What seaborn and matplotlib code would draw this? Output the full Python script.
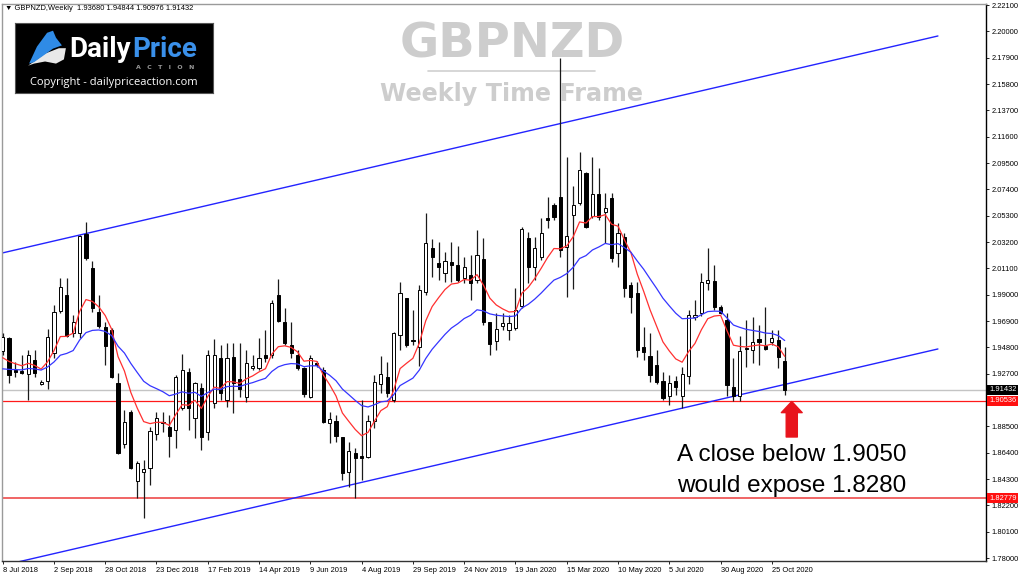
import numpy as np
import pandas as pd
import seaborn as sns
import matplotlib.pyplot as plt
from matplotlib.lines import Line2D
from matplotlib.patches import Polygon

# weekly GBPNZD candles, first week 8 Jul 2018
first_week = "2018-07-08"

opens = [
    1.9453, 1.9558, 1.9301, 1.9293, 1.9269, 1.9381, 1.9190, 1.9213, 1.9437, 1.9771,
    1.9899, 1.9596, 1.9596, 2.0385, 2.0114, 1.9763, 1.9644, 1.9620, 1.9197, 1.8711,
    1.8966, 1.8416, 1.8488, 1.8520, 1.8791, 1.8887, 1.8847, 1.8823, 1.8998, 1.9285,
    1.8919, 1.9158, 1.8807, 1.9038, 1.9397, 1.9062, 1.9405, 1.9229, 1.9086, 1.9317,
    1.9317, 1.9421, 1.9421, 1.9899, 1.9684, 1.9500, 1.9421, 1.9317, 1.9086, 1.9357,
    1.9301, 1.8879, 1.8895, 1.8767, 1.8488, 1.8640, 1.8616, 1.8608, 1.8895, 1.9190,
    1.9245, 1.9062, 1.9580, 1.9875, 1.9540, 1.9484, 1.9923, 2.0273, 2.0154, 2.0074,
    2.0162, 2.0138, 2.0034, 2.0058, 2.0018, 2.0186, 1.9684, 1.9532, 1.9652, 1.9620,
    1.9636, 1.9811, 2.0353, 2.0122, 2.0202, 2.0513, 2.0616, 2.0680, 2.0281, 2.0536,
    2.0632, 2.0871, 2.0528, 2.0704, 2.0560, 2.0672, 2.0234, 2.0361, 1.9978, 1.9915,
    1.9484, 1.9413, 1.9341, 1.9213, 1.9094, 1.9213, 1.9094, 1.9253, 1.9724, 1.9755,
    1.9994, 2.0010, 1.9803, 1.9700, 1.9166, 1.9094, 1.9476, 1.9460, 1.9548, 1.9492,
    1.9524, 1.9540, 1.93680,
]
highs = [
    1.9596, 1.9566, 1.9365, 1.9421, 1.9460, 1.9460, 1.9221, 1.9628, 1.9819, 2.0034,
    2.0034, 1.9740, 2.0377, 2.0481, 2.0170, 1.9899, 1.9684, 1.9636, 1.9277, 1.8982,
    1.8982, 1.8576, 1.8584, 1.8847, 1.8966, 1.8966, 1.8942, 1.9261, 1.9429, 1.9317,
    1.9205, 1.9197, 1.9460, 1.9548, 1.9500, 1.9516, 1.9516, 1.9516, 1.9460, 1.9421,
    1.9556, 1.9620, 1.9859, 2.0026, 1.9795, 1.9684, 1.9460, 1.9325, 1.9421, 1.9373,
    1.9325, 1.8966, 1.8942, 1.8767, 1.8727, 1.8680, 1.9062, 1.8942, 1.9261, 1.9413,
    1.9365, 1.9604, 2.0002, 1.9875, 1.9779, 1.9978, 2.0552, 2.0345, 2.0321, 2.0242,
    2.0321, 2.0289, 2.0202, 2.0218, 2.0417, 2.0353, 1.9684, 1.9755, 1.9755, 1.9740,
    1.9955, 2.0441, 2.0401, 2.0361, 2.0513, 2.0680, 2.0632, 2.1788, 2.0999, 2.0768,
    2.1039, 2.0879, 2.0999, 2.0911, 2.0712, 2.0712, 2.0473, 2.0393, 2.0002, 2.0002,
    1.9644, 1.9596, 1.9460, 1.9285, 1.9261, 1.9253, 1.9325, 1.9779, 1.9859, 2.0074,
    2.0273, 2.0138, 1.9819, 1.9755, 1.9397, 1.9572, 1.9700, 1.9724, 1.9660, 1.9803,
    1.9620, 1.9620, 1.94844,
]
lows = [
    1.9421, 1.9197, 1.9245, 1.9269, 1.9062, 1.9245, 1.9182, 1.9150, 1.9397, 1.9755,
    1.9564, 1.9564, 1.9556, 2.0178, 1.9763, 1.9636, 1.9341, 1.9237, 1.8632, 1.8680,
    1.8512, 1.8281, 1.8122, 1.8385, 1.8743, 1.8807, 1.8608, 1.8680, 1.8982, 1.8823,
    1.8759, 1.8664, 1.8743, 1.8998, 1.9062, 1.9006, 1.8958, 1.9086, 1.9046, 1.9301,
    1.9301, 1.9365, 1.9397, 1.9684, 1.9500, 1.9397, 1.9301, 1.9086, 1.9078, 1.9325,
    1.8879, 1.8719, 1.8727, 1.8424, 1.8369, 1.8281, 1.8424, 1.8600, 1.8839, 1.9118,
    1.9086, 1.9046, 1.9460, 1.9484, 1.9500, 1.9333, 1.9899, 2.0042, 2.0018, 2.0002,
    2.0002, 2.0002, 1.9994, 1.9859, 1.9994, 1.9660, 1.9421, 1.9460, 1.9620, 1.9540,
    1.9620, 1.9795, 1.9994, 2.0018, 2.0178, 2.0433, 2.0497, 2.0202, 1.9883, 1.9947,
    2.0616, 2.0433, 2.0513, 2.0497, 2.0313, 2.0162, 2.0122, 1.9883, 1.9755, 1.9405,
    1.9381, 1.9205, 1.9190, 1.9062, 1.9022, 1.9102, 1.8998, 1.9190, 1.9700, 1.9732,
    1.9939, 1.9779, 1.9747, 1.9094, 1.9054, 1.9054, 1.9325, 1.9357, 1.9341, 1.9460,
    1.9500, 1.9317, 1.90976,
]
closes = [
    1.9564, 1.9261, 1.9285, 1.9277, 1.9421, 1.9277, 1.9205, 1.9564, 1.9763, 1.9963,
    1.9572, 1.9684, 2.0369, 2.0194, 1.9795, 1.9652, 1.9492, 1.9245, 1.8640, 1.8887,
    1.8520, 1.8560, 1.8512, 1.8815, 1.8919, 1.8879, 1.8775, 1.9245, 1.9301, 1.8998,
    1.9197, 1.8767, 1.9421, 1.9421, 1.9118, 1.9397, 1.9197, 1.9150, 1.9357, 1.9333,
    1.9397, 1.9397, 1.9835, 1.9692, 1.9516, 1.9437, 1.9317, 1.9110, 1.9397, 1.9341,
    1.8887, 1.8911, 1.8775, 1.8480, 1.8656, 1.8600, 1.8600, 1.8895, 1.9205, 1.9269,
    1.9118, 1.9596, 1.9915, 1.9500, 1.9532, 1.9939, 2.0313, 2.0202, 2.0122, 2.0170,
    2.0138, 2.0018, 2.0122, 1.9994, 2.0218, 1.9684, 1.9508, 1.9628, 1.9676, 1.9676,
    1.9779, 2.0425, 2.0122, 2.0273, 2.0393, 2.0497, 2.0521, 2.0258, 2.0369, 2.0616,
    2.0895, 2.0441, 2.0704, 2.0521, 2.0592, 2.0194, 2.0393, 1.9955, 1.9883, 1.9460,
    1.9445, 1.9261, 1.9205, 1.9078, 1.9197, 1.9166, 1.9269, 1.9740, 1.9740, 2.0002,
    2.0018, 1.9803, 1.9755, 1.9182, 1.9094, 1.9453, 1.9468, 1.9524, 1.9524, 1.9468,
    1.9556, 1.9405, 1.91432,
]

# moving averages (EMA 8 red, EMA 21 blue), starting values
ema_fast_span, ema_fast_start = 8, 1.9350
ema_slow_span, ema_slow_start = 21, 1.9283

# channel lines as (week, price) anchors
upper_channel_weeks = [-0.1, 145.9]
upper_channel_prices = [2.0232, 2.1963]
lower_channel_weeks = [-0.1, 145.9]
lower_channel_prices = [1.7739, 1.9467]

current_price = 1.91432
level_close = 1.90536
level_target = 1.82779

tick_dates = ["2018-07-08", "2018-09-02", "2018-10-28", "2018-12-23", "2019-02-17",
              "2019-04-14", "2019-06-09", "2019-08-04", "2019-09-29", "2019-11-24",
              "2020-01-19", "2020-03-15", "2020-05-10", "2020-07-05", "2020-08-30",
              "2020-10-25"]
price_ticks = [2.221, 2.200, 2.179, 2.158, 2.137, 2.116, 2.095, 2.074, 2.053, 2.032,
               2.011, 1.990, 1.969, 1.948, 1.927, 1.885, 1.864, 1.843, 1.822, 1.801,
               1.780]


def ema(values, span, start):
    alpha = 2.0 / (span + 1)
    out, prev = [], start
    for v in values:
        prev = alpha * v + (1 - alpha) * prev
        out.append(prev)
    return np.array(out)


sns.set_style("white")
plt.rcParams["font.family"] = ["Liberation Sans", "DejaVu Sans"]

df = pd.DataFrame({"open": opens, "high": highs, "low": lows, "close": closes})
df["week"] = np.arange(len(df))
df["ema_fast"] = ema(df["close"], ema_fast_span, ema_fast_start)
df["ema_slow"] = ema(df["close"], ema_slow_span, ema_slow_start)

fig = plt.figure(figsize=(10.24, 5.78), dpi=100)
ax = fig.add_axes([2 / 1024, 17 / 578, 984 / 1024, 557 / 578])

# watermark title behind the chart
ax.text(512 / 1024, 1 - 57 / 578, "GBPNZD", transform=fig.transFigure, ha="center",
        va="baseline", fontsize=34.5, fontweight="bold", color="#cdcdcd",
        family="DejaVu Sans", zorder=0)
ax.add_line(Line2D([428 / 1024, 595 / 1024], [1 - 70.5 / 578, 1 - 70.5 / 578],
                   transform=fig.transFigure, color="#d0d0d0", lw=1.2, zorder=0))
ax.text(512 / 1024, 1 - 101.5 / 578, "Weekly Time Frame", transform=fig.transFigure,
        ha="center", va="baseline", fontsize=17.2, fontweight="bold", color="#cdcdcd",
        family="DejaVu Sans", zorder=0)

# levels
ax.axhline(current_price, color="#c4c4c4", lw=1, zorder=1)
ax.axhline(level_close, color="#ff1a1a", lw=0.9, zorder=2)
ax.axhline(level_target, color="#f06464", lw=1.4, zorder=2)

# channel
ax.plot(upper_channel_weeks, upper_channel_prices, color="#2323ff", lw=1, zorder=2)
ax.plot(lower_channel_weeks, lower_channel_prices, color="#2323ff", lw=1, zorder=2)

# candles
up = df["close"] >= df["open"]
body_low = df[["open", "close"]].min(axis=1)
body_h = (df["close"] - df["open"]).abs().clip(lower=0.0004)
ax.vlines(df["week"], df["low"], df["high"], color="#1a1a1a", lw=0.9, zorder=3)
ax.bar(df["week"], body_h, bottom=body_low, width=0.5,
       color=np.where(up, "white", "black"), edgecolor="black", linewidth=0.7, zorder=4)

# moving averages
sns.lineplot(data=df, x="week", y="ema_fast", ax=ax, color="#ff3030", lw=0.9, zorder=5)
sns.lineplot(data=df, x="week", y="ema_slow", ax=ax, color="#3535ff", lw=0.9, zorder=5)

# arrow + note
note_week = 123.1
ax.annotate("", xy=(note_week, 1.9048), xytext=(note_week, 1.8765),
            arrowprops=dict(arrowstyle="simple,head_length=0.8,head_width=1.5,tail_width=0.8",
                            mutation_scale=10, color="#e8141c", shrinkA=0, shrinkB=0),
            zorder=6)
ax.text(note_week, 1.8576, "A close below 1.9050", ha="center", va="baseline",
        fontsize=17.5, color="black", zorder=6)
ax.text(note_week, 1.8329, "would expose 1.8280", ha="center", va="baseline",
        fontsize=17.5, color="black", zorder=6)

# axes
ax.set_xlim(-0.1, 153.4)
ax.set_ylim(1.77761, 2.2218)
ax.set_xlabel("")
ax.set_ylabel("")

start = pd.Timestamp(first_week)
tick_pos = [(pd.Timestamp(d) - start).days / 7 for d in tick_dates]
tick_lab = [f"{pd.Timestamp(d).day} {pd.Timestamp(d):%b %Y}" for d in tick_dates]
ax.set_xticks(tick_pos)
ax.set_xticklabels(tick_lab, ha="left")
ax.set_yticks(price_ticks)
ax.set_yticklabels([f"{p:.5f}" for p in price_ticks])
ax.yaxis.tick_right()
ax.tick_params(axis="both", labelsize=5.4, length=2.5, width=0.6, pad=1.5,
               colors="black", direction="out")
ax.tick_params(axis="y", left=False, right=True, labelleft=False, labelright=True)
ax.tick_params(axis="x", bottom=True, top=False)

for side, col in [("left", "#9a9a9a"), ("top", "#9a9a9a"), ("right", "black"), ("bottom", "#333333")]:
    ax.spines[side].set_visible(True)
    ax.spines[side].set_color(col)
    ax.spines[side].set_linewidth(1.0)

# price tags on the axis
for price, bg in [(current_price, "black"), (level_close, "#ff1010"), (level_target, "#ff1010")]:
    ax.text(1.003, price, f"{price:.5f}", transform=ax.get_yaxis_transform(),
            ha="left", va="center", fontsize=5.4, color="white", clip_on=False,
            bbox=dict(boxstyle="square,pad=0.2", fc=bg, ec="none"), zorder=7)

# header line
fig.text(5 / 1024, 1 - 8 / 578, "\u25bc GBPNZD,Weekly  1.93680 1.94844 1.90976 1.91432",
         fontsize=5.4, va="center", ha="left", color="black")

# logo
logo = fig.add_axes([15 / 1024, 1 - 93 / 578, 198 / 1024, 70 / 578])
logo.set_facecolor("black")
logo.set_xticks([])
logo.set_yticks([])
logo.set_xlim(0, 1)
logo.set_ylim(0, 1)
for s in logo.spines.values():
    s.set_color("#555555")
logo.add_patch(Polygon([(0.066, 0.39), (0.152, 0.563), (0.222, 0.64), (0.257, 0.64),
                        (0.247, 0.48), (0.207, 0.42), (0.152, 0.45), (0.096, 0.42)],
                       closed=True, fc="#e8e8e8", ec="none"))
logo.add_patch(Polygon([(0.071, 0.42), (0.111, 0.663), (0.162, 0.86), (0.192, 0.89),
                        (0.207, 0.79), (0.237, 0.68), (0.192, 0.634), (0.146, 0.54),
                        (0.096, 0.44)], closed=True, fc="#2f8be6", ec="none"))
logo.text(0.586, 0.52, "Daily", ha="right", va="baseline", fontsize=20,
          fontweight="bold", color="white", family="Roboto")
logo.text(0.592, 0.52, "Price", ha="left", va="baseline", fontsize=20,
          fontweight="bold", color="#3a90ea", family="Roboto")
logo.text(0.76, 0.36, "A   C   T   I   O   N", ha="center", va="center", fontsize=4.5,
          fontweight="bold", color="#9a9a9a", family="DejaVu Sans")
logo.text(0.497, 0.155, "Copyright - dailypriceaction.com", ha="center", va="center",
          fontsize=8, color="white", family="Open Sans")

fig.savefig("out.png", dpi=100)
